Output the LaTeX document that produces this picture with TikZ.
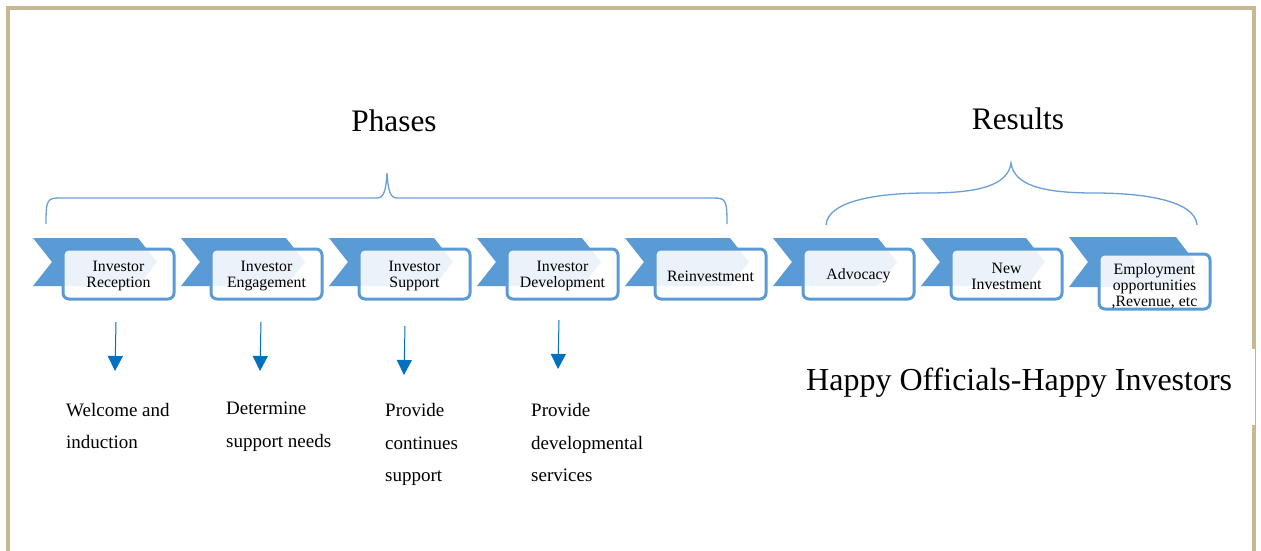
\documentclass[tikz,border=0pt]{standalone}
\usepackage{fontspec}
\setmainfont{Liberation Serif}
\usetikzlibrary{arrows.meta}

\definecolor{chevblue}{HTML}{5B9BD5}
\definecolor{bracecol}{HTML}{6A9FD8}
\definecolor{arrowblue}{HTML}{0070C0}
\definecolor{framecol}{HTML}{C4B993}

\tikzset{
  chevron/.style={fill=chevblue, draw=none},
  stagebox/.style={draw=chevblue, line width=3pt, rounded corners=6pt,
    fill=white, fill opacity=0.88,
    minimum width=111pt, minimum height=50pt, inner sep=0pt},
  stagelabel/.style={inner sep=0pt, align=center,
    font=\fontsize{15.8}{16}\selectfont},
  bracket/.style={draw=bracecol, line width=1.3pt},
  downarrow/.style={draw=arrowblue, line width=1pt,
    -{Triangle[width=15pt,length=15pt]}, arrowblue},
  note/.style={anchor=base west, inner sep=0pt, align=left,
    font=\fontsize{19}{32.5}\selectfont},
  heading/.style={anchor=base, inner sep=0pt, font=\fontsize{31.3}{36}\selectfont},
}

\begin{document}
\begin{tikzpicture}[x=1pt, y=-1pt]
\useasboundingbox (0,0) rectangle (1261,551);
\fill[white] (0,0) rectangle (1261,551);

% page frame (open at the bottom, interrupted on the right by the slogan box)
\draw[framecol, line width=4pt] (8,553) -- (8,8) -- (1254,8) -- (1254,349);
\draw[framecol, line width=4pt] (1254,425) -- (1254,553);
\draw[gray!60, line width=0.6pt] (1255,349) -- (1255,425);

% headings
\node[heading] (phases) at (394,131) {Phases};
\node[heading] (results) at (1018,129) {Results};

% curly bracket over the phases
\draw[bracket] (46,224) .. controls (46,200) and (47,198) .. (60,198)
  -- (377,198) .. controls (384,198) and (386,190) .. (387,173)
  .. controls (388,190) and (390,198) .. (397,198)
  -- (713,198) .. controls (726,198) and (727,200) .. (727,224);

% curly bracket over the results
\draw[bracket] (826,225) .. controls (828,200) and (880,193) .. (928,193)
  .. controls (980,193) and (1008,185) .. (1011,163)
  .. controls (1014,185) and (1042,193) .. (1094,193)
  .. controls (1142,193) and (1195,200) .. (1197,225);

% chevron process stages
\foreach \x/\name/\label in {
    33/s1/{Investor\\Reception},
    181/s2/{Investor\\Engagement},
    329/s3/{Investor\\Support},
    477/s4/{Investor\\Development},
    625/s5/{Reinvestment},
    773/s6/{Advocacy},
    921/s7/{New\\Investment}} {
  \fill[chevron] (\x,238) -- (\x+105,238) -- (\x+124,262) -- (\x+105,286)
    -- (\x,286) -- (\x+19,262) -- cycle;
  \node[stagebox] (\name) at (\x+85.5,274) {};
  \node[stagelabel] (\name-text) at ([yshift=-2pt]\name.center) {\label};
}
\fill[chevron] (1069,237) -- (1176,237) -- (1195,262) -- (1176,287)
  -- (1069,287) -- (1088,262) -- cycle;
\node[stagebox, minimum height=55pt] (s8) at (1154.5,281.5) {};
\node[stagelabel] (s8-text) at ([yshift=-4.5pt]s8.center)
  {Employment\\opportunities\\,Revenue, etc};

% arrows under the first four phases
\coordinate (a1s) at (116,322); \coordinate (a1e) at (115,371);
\coordinate (a2s) at (261,322); \coordinate (a2e) at (260,371);
\coordinate (a3s) at (405,326); \coordinate (a3e) at (404,375);
\coordinate (a4s) at (559,320); \coordinate (a4e) at (558,369);
\draw[downarrow] (a1s) -- (a1e);
\draw[downarrow] (a2s) -- (a2e);
\draw[downarrow] (a3s) -- (a3e);
\draw[downarrow] (a4s) -- (a4e);

% phase descriptions (base anchor sits on the last line)
\node[note] (d1) at (66,448.5) {Welcome and\\induction};
\node[note] (d2) at (226,447) {Determine\\support needs};
\node[note] (d3) at (385,481.5) {Provide\\continues\\support};
\node[note] (d4) at (531,481.5) {Provide\\developmental\\services};

% slogan
\node[anchor=base west, inner sep=0pt, font=\fontsize{32}{36}\selectfont]
  (slogan) at (806,390) {Happy Officials-Happy Investors};
\end{tikzpicture}
\end{document}
